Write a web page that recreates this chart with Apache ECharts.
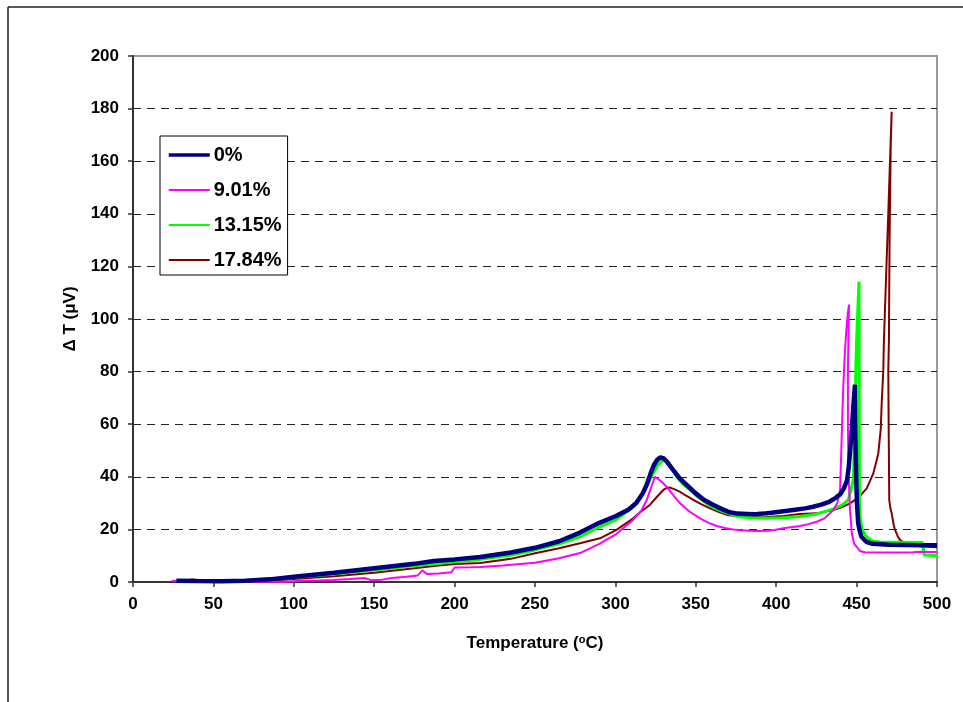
<!DOCTYPE html>
<html>
<head>
<meta charset="utf-8">
<script src="https://cdn.jsdelivr.net/npm/echarts@6/dist/echarts.min.js"></script>
<style>
html,body{margin:0;padding:0;background:#fff;}
#chart{width:963px;height:702px;}
</style>
</head>
<body>
<div id="chart"></div>
<script>
// ---- data (Temperature in °C, ΔT in µV) ----
const seriesNames = ['0%', '9.01%', '13.15%', '17.84%'];

const xTicks = [0, 50, 100, 150, 200, 250, 300, 350, 400, 450, 500];
const yTicks = [0, 20, 40, 60, 80, 100, 120, 140, 160, 180, 200];

const t0 = [27, 40, 55, 70, 85, 100, 125, 150, 175, 187, 200, 216, 235, 250, 265, 278, 290, 300, 308, 313, 317, 319.5, 322, 324, 326, 328, 330, 332, 336, 340, 345, 350, 355, 361, 366, 371, 376, 382, 387, 392, 397, 402, 407, 413, 418, 423, 428, 433, 437, 440, 442, 444, 445, 446, 447, 448, 449, 449.3, 449.8, 450.3, 451, 452, 453, 456, 460, 470, 480, 490, 500];
const v0 = [0.5, 0.4, 0.3, 0.5, 1, 2, 3.5, 5.2, 6.9, 8, 8.6, 9.5, 11.2, 13, 15.5, 18.8, 22.5, 25, 27.5, 30, 33.7, 37, 41.5, 44.5, 46.5, 47.4, 47, 45.8, 42.5, 39.4, 36.5, 33.7, 31.3, 29.3, 27.8, 26.5, 26, 25.9, 25.8, 26, 26.3, 26.7, 27.1, 27.6, 28, 28.6, 29.4, 30.5, 32, 33.5, 35.5, 38.5, 43, 50, 58, 67, 75, 55, 38, 29, 22.3, 19.3, 17.2, 15.3, 14.5, 14.2, 14.1, 14, 14];

const t1 = [24, 35, 50, 65, 80, 96, 104, 115, 125, 135, 144, 148, 155, 161, 170, 177, 180, 183, 190, 198, 200, 210, 216, 230, 250, 265, 278, 290, 300, 311, 316, 319.5, 322.5, 324.6, 325.7, 328, 331.9, 336, 340.2, 346, 352.6, 358, 363, 368, 373.3, 378, 383.7, 389, 394, 399, 404.4, 409, 414.8, 420, 425.2, 430, 435.5, 438, 439.7, 440.5, 441.2, 441.7, 442.5, 443.5, 444.5, 445.3, 445.1, 444.6, 444.6, 444.9, 445.9, 447, 448.5, 450, 452, 455, 465, 475, 485, 490, 495, 500];
const v1 = [0.5, 0.3, 0.2, 0.1, 0.1, 0.1, 0.5, 0.6, 0.8, 1.1, 1.5, 0.7, 0.9, 1.5, 2, 2.5, 4.4, 3, 3.2, 3.7, 5.5, 5.6, 5.7, 6.3, 7.3, 9, 11, 14.5, 18, 23.6, 27, 31.2, 36.5, 40, 40.5, 38.5, 36.2, 33, 29.9, 26.8, 24.2, 22.5, 21.3, 20.5, 20, 19.7, 19.5, 19.4, 19.5, 19.8, 20.4, 20.8, 21.3, 22, 22.9, 24.2, 27.4, 30, 35, 50, 65, 74, 85, 95, 102, 105.5, 100, 80, 60, 42.6, 27.4, 18.5, 14.5, 13.4, 11.8, 11.3, 11.2, 11.2, 11.3, 11.5, 11.4, 11.4];

const t2 = [40, 55, 70, 85, 100, 125, 150, 175, 187, 200, 216, 235, 250, 265, 278, 290.4, 300, 311, 316, 321.4, 324, 326.6, 328.5, 330.8, 333, 335, 338.1, 342, 346.4, 351, 356.7, 362, 367.1, 372, 377.4, 385, 394, 404, 414.8, 425, 435.5, 441, 444.8, 446.5, 448, 449, 449.5, 450, 451.5, 451.6, 451.7, 451.8, 452.3, 453.5, 455.2, 457.5, 460.4, 465, 475, 485, 491, 492, 495, 500];
const v2 = [0.3, 0.4, 0.6, 1, 1.7, 3, 4.6, 6.2, 6.8, 7.7, 8.6, 10.2, 12.2, 14.5, 17.2, 21, 23.5, 28.6, 33, 38.8, 42, 44.5, 45.8, 46.4, 45.5, 43.5, 40, 37.2, 35, 32.5, 29.9, 28, 26.7, 25.6, 24.8, 24.4, 24.2, 24.4, 24.9, 25.8, 27.8, 29.2, 31.2, 35, 39, 60, 80, 92, 114.2, 80, 49, 30, 24, 20, 18, 16.5, 15.5, 15.2, 15.1, 15, 15, 10.3, 10.2, 10];

const t3 = [27, 32, 37, 42, 52, 60, 75, 90, 100, 125, 150, 175, 187, 200, 216, 235, 250, 265, 278, 290.4, 300.7, 311.1, 316, 321.4, 326, 329.8, 332, 334, 337, 340.2, 344, 348.5, 353, 358.9, 364, 369.2, 376, 383.7, 394, 404.4, 414.8, 425.2, 435.5, 441, 445.9, 451, 456.3, 460.4, 463.5, 465, 465.6, 466.6, 467, 468, 469, 469.7, 470.5, 471.2, 471.8, 471.2, 470.5, 470.1, 469.7, 470, 470.3, 471, 471.8, 473, 473.9, 475.5, 477, 480, 485, 490, 500];
const v3 = [0.3, 0.5, 1, 0.4, 0.8, 0.5, 0.5, 0.7, 1.1, 2.2, 3.5, 5.2, 6.1, 6.8, 7.2, 8.8, 10.9, 12.8, 14.7, 16.6, 19.8, 24.2, 26.8, 29.3, 32.5, 35, 35.8, 35.9, 35.2, 34.3, 32.8, 31.2, 29.7, 28, 26.7, 25.5, 25, 24.6, 24.7, 25.1, 25.9, 26.1, 27.4, 28.5, 29.9, 32, 35.6, 41.3, 48.9, 58, 67.9, 80.6, 92, 110, 128, 140, 155, 168, 178.8, 165, 130, 92, 80.6, 55, 31.2, 28, 26.1, 22, 19.8, 17.5, 16, 14.8, 14, 13.6, 13.2];

const colors = ['#000080', '#ff00ff', '#00ff00', '#800000'];
const widths = [4.5, 2, 3, 2];
const legendWidths = [3.5, 2, 2, 2];

function pairs(t, v) { return t.map((x, i) => [x, v[i]]); }
const allData = [pairs(t0, v0), pairs(t1, v1), pairs(t2, v2), pairs(t3, v3)];

const chart = echarts.init(document.getElementById('chart'), null, {renderer: 'canvas'});
const FONT = 'Liberation Sans, Arial, sans-serif';

chart.setOption({
  animation: false,
  backgroundColor: '#fff',
  grid: {
    left: 133, right: 26, top: 56, bottom: 120,
    show: true, borderColor: '#999', borderWidth: 2, backgroundColor: 'transparent'
  },
  legend: {
    orient: 'vertical',
    left: 160, top: 136,
    padding: [9, 6, 5, 7],
    itemWidth: 41, itemHeight: 20, itemGap: 15,
    borderColor: '#000', borderWidth: 1,
    backgroundColor: '#fff',
    itemStyle: {opacity: 0},
    textStyle: {fontFamily: FONT, fontWeight: 'bold', fontSize: 20, color: '#000', padding: [0, 0, 0, -1]},
    data: seriesNames.map((n, i) => ({name: n, lineStyle: {width: legendWidths[i], color: colors[i], opacity: 1}}))
  },
  xAxis: {
    type: 'value', min: xTicks[0], max: xTicks[xTicks.length - 1], interval: 50,
    name: 'Temperature ({sup|o}C)', nameLocation: 'middle', nameGap: 52,
    nameTextStyle: {
      fontFamily: FONT, fontWeight: 'bold', fontSize: 17, color: '#000',
      rich: {sup: {fontFamily: FONT, fontWeight: 'bold', fontSize: 11, color: '#000', padding: [0, 0, 7, 0]}}
    },
    axisLine: {show: true, lineStyle: {color: '#333', width: 2}},
    axisTick: {show: true, inside: false, length: 5, lineStyle: {color: '#333', width: 1.5}},
    axisLabel: {fontFamily: FONT, fontWeight: 'bold', fontSize: 17, color: '#000', margin: 14},
    splitLine: {show: false}
  },
  yAxis: {
    type: 'value', min: yTicks[0], max: yTicks[yTicks.length - 1], interval: 20,
    name: 'Δ T (μV)', nameLocation: 'middle', nameGap: 54,
    nameTextStyle: {fontFamily: FONT, fontWeight: 'bold', fontSize: 17, color: '#000'},
    axisLine: {show: true, lineStyle: {color: '#333', width: 2}},
    axisTick: {show: true, inside: false, length: 5, lineStyle: {color: '#333', width: 1.5}},
    axisLabel: {fontFamily: FONT, fontWeight: 'bold', fontSize: 17, color: '#000', margin: 14},
    splitLine: {show: true, showMinLine: false, showMaxLine: false, lineStyle: {color: '#222', width: 1, type: [8, 6]}}
  },
  graphic: [
    {type: 'line', silent: true, shape: {x1: 8, y1: 7, x2: 963, y2: 7}, style: {stroke: '#222', lineWidth: 1.5}},
    {type: 'line', silent: true, shape: {x1: 8, y1: 7, x2: 8, y2: 702}, style: {stroke: '#222', lineWidth: 1.5}}
  ],
  series: seriesNames.map((n, i) => ({
    name: n, type: 'line', data: allData[i], showSymbol: false, symbol: 'none',
    color: colors[i],
    lineStyle: {color: colors[i], width: widths[i]},
    z: 10 - i
  }))
});
</script>
</body>
</html>
